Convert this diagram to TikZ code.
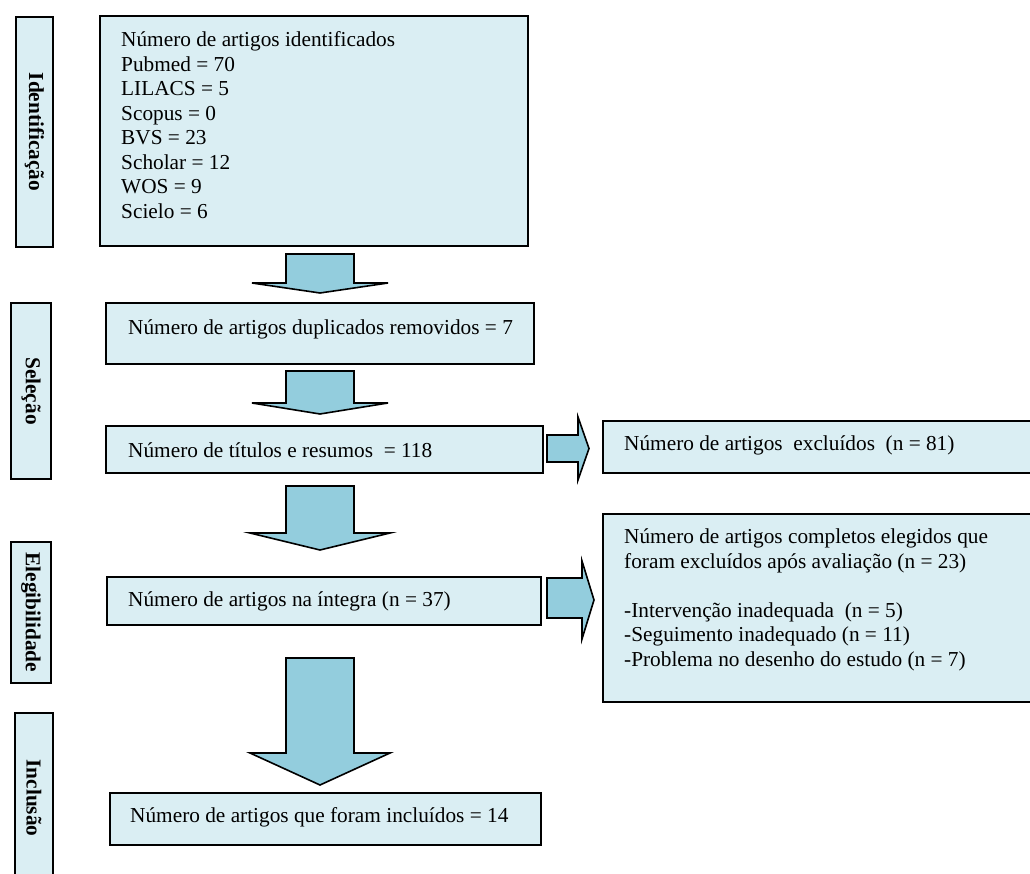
\documentclass[tikz,border=0pt]{standalone}
\usepackage{fontspec}
\setmainfont{Liberation Serif}
\usetikzlibrary{positioning}
\definecolor{boxfill}{HTML}{DAEEF3}
\definecolor{arrowfill}{HTML}{93CDDD}
\begin{document}
\begin{tikzpicture}[x=1pt,y=-1pt,font=\fontsize{21.3}{24.5}\selectfont]
    \tikzstyle{box} = [rectangle, draw, line width=1.6pt, fill=boxfill, inner sep=0pt, outer sep=0pt]
    \tikzstyle{stage} = [box, rotate=-90, font=\fontsize{21.3}{24.5}\selectfont\bfseries]
    \tikzstyle{txt} = [inner sep=0pt, align=left]
    \tikzstyle{barrow} = [draw, line width=1.6pt, fill=arrowfill]
    \useasboundingbox (0,0) rectangle (1030,874);
    \clip (0,0) rectangle (1030,874);
        % stages
        \node[stage,minimum width=230,minimum height=37] (ident) at (34.5,132) {Identificação};
        \node[stage,minimum width=176,minimum height=40] (selec) at (31,391) {Seleção};
        \node[stage,minimum width=141,minimum height=40.5] (eleg) at (31,612.5) {Elegibilidade};
        \node[stage,minimum width=170,minimum height=38.5] (incl) at (34,798) {Inclusão};
        % main column
        \node[box,minimum width=428,minimum height=230] (found) at (314,131) {};
        \node[txt,right=21pt,yshift=6pt] (foundtxt) at (found.west) {Número de artigos identificados\\
            Pubmed = 70\\ LILACS = 5\\ Scopus = 0\\ BVS = 23\\ Scholar = 12\\ WOS = 9\\ Scielo = 6};
        \node[box,minimum width=428,minimum height=61] (dupl) at (320,333.5) {};
        \node[txt,right=22pt,yshift=4pt] (dupltxt) at (dupl.west) {Número de artigos duplicados removidos = 7};
        \node[box,minimum width=437,minimum height=47] (titles) at (324.5,449.5) {};
        \node[txt,right=22pt,yshift=-1pt] (titlestxt) at (titles.west) {Número de títulos e resumos\ \ = 118};
        \node[box,minimum width=434,minimum height=48] (full) at (324,601) {};
        \node[txt,right=21pt] (fulltxt) at (full.west) {Número de artigos na íntegra (n = 37)};
        \node[box,minimum width=431,minimum height=52] (final) at (325.5,819) {};
        \node[txt,right=20pt,yshift=1.5pt] (finaltxt) at (final.west) {Número de artigos que foram incluídos = 14};
        % excluded
        \node[box,minimum width=437,minimum height=52] (excl) at (821.5,447) {};
        \node[txt,right=21pt,yshift=1.5pt] (excltxt) at (excl.west) {Número de artigos\ \ excluídos\ \ (n = 81)};
        \node[box,minimum width=437,minimum height=188] (exclfull) at (821.5,608) {};
        \node[txt,right=21pt,yshift=8pt] (exclfulltxt) at (exclfull.west) {Número de artigos completos elegidos que\\
            foram excluídos após avaliação (n = 23)\\[24.5pt]
            -Intervenção inadequada\ \ (n = 5)\\ -Seguimento inadequado (n = 11)\\ -Problema no desenho do estudo (n = 7)};
        % arrows down
        \draw[barrow] (286,254) -- (354,254) -- (354,283) -- (388,283) -- (320,293) -- (252,283) -- (286,283) -- cycle;
        \draw[barrow] (286,371) -- (354,371) -- (354,403) -- (388,403) -- (320,414) -- (252,403) -- (286,403) -- cycle;
        \draw[barrow] (286,486) -- (354,486) -- (354,533) -- (390,533) -- (320,550) -- (250,533) -- (286,533) -- cycle;
        \draw[barrow] (286,658) -- (354,658) -- (354,753) -- (390,753) -- (320,785) -- (250,753) -- (286,753) -- cycle;
        % arrows right
        \draw[barrow] (547,435) -- (578,435) -- (578,417) -- (589,448.5) -- (578,480) -- (578,462) -- (547,462) -- cycle;
        \draw[barrow] (547,578) -- (582,578) -- (582,561) -- (594,600) -- (582,639) -- (582,618) -- (547,618) -- cycle;
\end{tikzpicture}
\end{document}
